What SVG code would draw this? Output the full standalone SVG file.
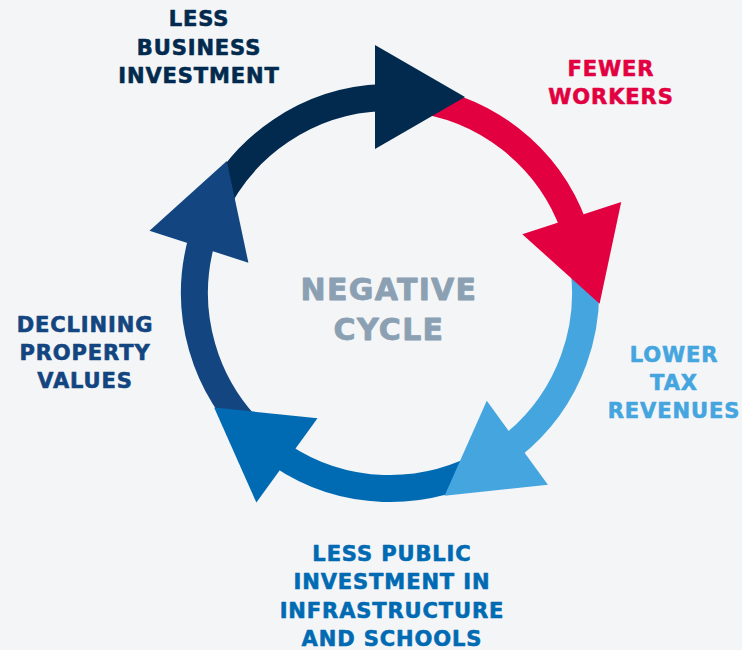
<svg xmlns="http://www.w3.org/2000/svg" width="742" height="650" viewBox="0 0 742 650">
  <style>
    .lbl { font-family: "DejaVu Sans", "Liberation Sans", sans-serif; font-weight: bold; font-size: 21px; letter-spacing: 0.9px; text-anchor: middle; stroke-width: 0.6px; stroke-linejoin: round; }
    .center { font-family: "DejaVu Sans", "Liberation Sans", sans-serif; font-weight: bold; font-size: 30px; letter-spacing: 1.3px; text-anchor: middle; fill: #8ba0b2; stroke: #8ba0b2; stroke-width: 0.8px; stroke-linejoin: round; }
    .arc { fill: none; stroke-width: 27; }
  </style>
  <defs>
    <!-- one segment of the ring (top position), rotated into the five slots -->
    <path id="seg-arc" d="M211.4,213.5 A195.5,195.5 0 0 1 383.2,97.6"/>
    <polygon id="seg-head" points="375,45 465,97 375,149"/>
  </defs>
  <rect width="742" height="650" fill="#f3f5f7"/>

  <g id="connectors">
    <!-- arc bodies first, so every arrowhead sits over the start of the next arc -->
    <use href="#seg-arc" class="arc" stroke="#012a4e"/>
    <use href="#seg-arc" class="arc" stroke="#e30040" transform="rotate(72 390 293)"/>
    <use href="#seg-arc" class="arc" stroke="#45a5df" transform="rotate(144 390 293)"/>
    <use href="#seg-arc" class="arc" stroke="#006ab3" transform="rotate(216 390 293)"/>
    <use href="#seg-arc" class="arc" stroke="#134580" transform="rotate(288 390 293)"/>
    <use href="#seg-head" fill="#012a4e"/>
    <use href="#seg-head" fill="#e30040" transform="rotate(72 390 293)"/>
    <use href="#seg-head" fill="#45a5df" transform="rotate(144 390 293)"/>
    <use href="#seg-head" fill="#006ab3" transform="rotate(216 390 293)"/>
    <use href="#seg-head" fill="#134580" transform="rotate(288 390 293)"/>
  </g>

  <g id="center-title">
    <text class="center" x="389" y="300">NEGATIVE</text>
    <text class="center" x="389" y="340">CYCLE</text>
  </g>

  <g id="business-investment" fill="#012a4e" stroke="#012a4e">
    <text class="lbl" x="199" y="26">LESS</text>
    <text class="lbl" x="199" y="54.5">BUSINESS</text>
    <text class="lbl" x="199" y="83.3">INVESTMENT</text>
  </g>

  <g id="fewer-workers" fill="#e30040" stroke="#e30040">
    <text class="lbl" x="611" y="76">FEWER</text>
    <text class="lbl" x="611" y="104">WORKERS</text>
  </g>

  <g id="lower-tax-revenues" fill="#45a5df" stroke="#45a5df">
    <text class="lbl" x="674" y="361.7">LOWER</text>
    <text class="lbl" x="674" y="390">TAX</text>
    <text class="lbl" x="674" y="417.7">REVENUES</text>
  </g>

  <g id="public-investment" fill="#006ab3" stroke="#006ab3">
    <text class="lbl" x="392" y="561">LESS PUBLIC</text>
    <text class="lbl" x="392" y="589">INVESTMENT IN</text>
    <text class="lbl" x="392" y="617.5">INFRASTRUCTURE</text>
    <text class="lbl" x="392" y="645.5">AND SCHOOLS</text>
  </g>

  <g id="property-values" fill="#134580" stroke="#134580">
    <text class="lbl" x="85" y="331.7">DECLINING</text>
    <text class="lbl" x="85" y="360">PROPERTY</text>
    <text class="lbl" x="85" y="388.3">VALUES</text>
  </g>
</svg>
